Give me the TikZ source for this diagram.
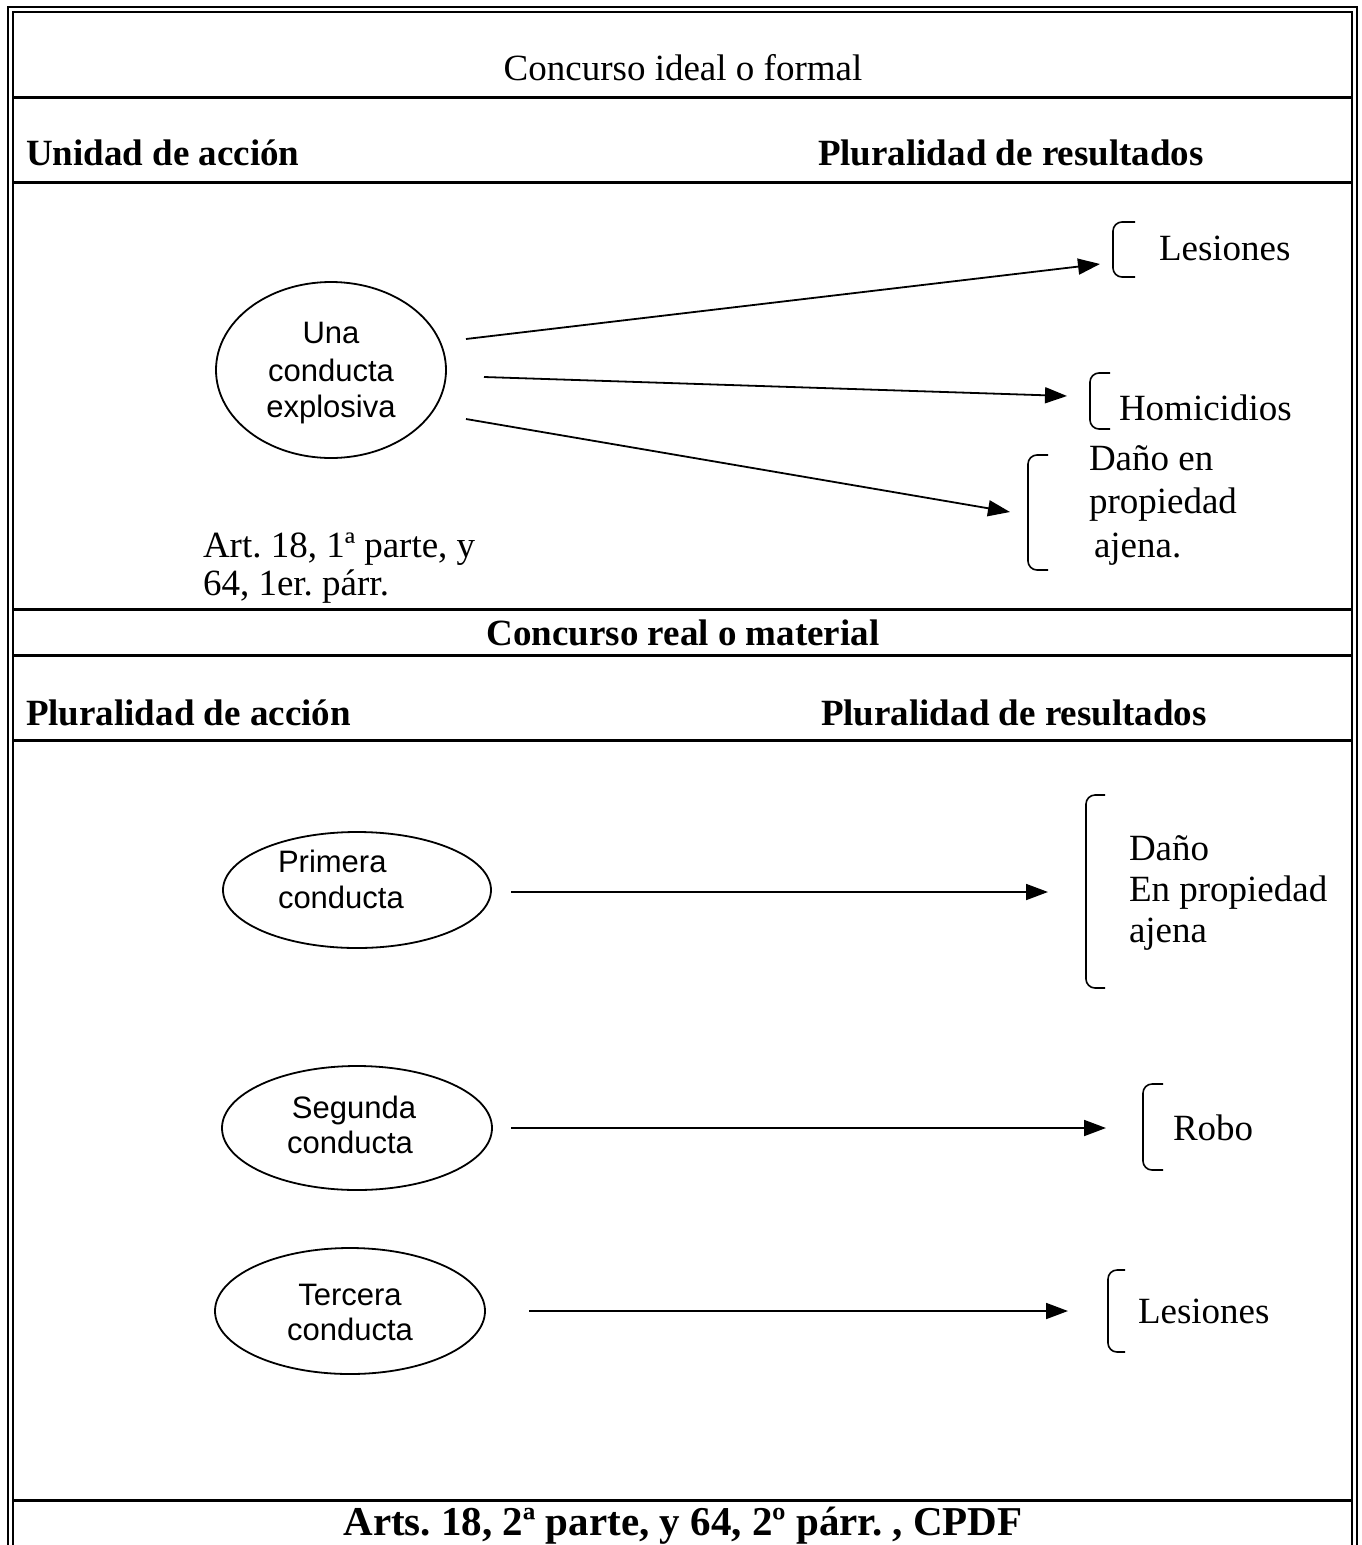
\documentclass[tikz,border=0pt]{standalone}
\usepackage{fontspec}
\setmainfont{Liberation Serif}
\newfontfamily\arialf{Liberation Sans}
\usetikzlibrary{arrows.meta,shapes.geometric}
\frenchspacing
\begin{document}
\begin{tikzpicture}[x=1pt,y=-1pt,line width=2pt,
  stxt/.style={font=\fontsize{37}{43}\selectfont,inner sep=0pt,anchor=base west},
  ctxt/.style={font=\fontsize{37}{43}\selectfont,inner sep=0pt,anchor=base},
  btxt/.style={font=\fontsize{37}{43}\selectfont\bfseries,inner sep=0pt,anchor=base west},
  atxt/.style={font=\fontsize{31}{36}\selectfont\arialf,inner sep=0pt,anchor=base},
  awtxt/.style={font=\fontsize{31}{36}\selectfont\arialf,inner sep=0pt,anchor=base west},
  ell/.style={draw,ellipse,inner sep=0pt,line width=1.8pt},
  arr/.style={-{Triangle[length=22pt,width=16pt]},line width=1.8pt},
  brk/.style={line width=1.6pt,rounded corners=9pt},
  rule/.style={line width=3pt}]
\useasboundingbox (0,0) rectangle (1361,1545);
\clip (0,0) rectangle (1361,1545);
% outer double border
\draw[line width=2.2pt] (8,7) rectangle (1357,1600);
\draw[line width=2.2pt] (13,12) rectangle (1352,1600);
% horizontal rules
\foreach \yy in {97,182,609,655,740,1500}
  \draw[rule] (13,\yy) -- (1352,\yy);
% headers
\node[ctxt] (t1) at (683,80) {Concurso ideal o formal};
\node[btxt] (h1) at (25,165) {Unidad de acción};
\node[btxt] (h2) at (817,165) {Pluralidad de resultados};
\node[ctxt,font=\fontsize{37}{43}\selectfont\bfseries] (t2) at (683,645) {Concurso real o material};
\node[btxt] (h3) at (25,725) {Pluralidad de acción};
\node[btxt] (h4) at (820,725) {Pluralidad de resultados};
\node[ctxt,font=\fontsize{41}{47}\selectfont\bfseries] (t3) at (683,1535) {Arts. 18, 2ª parte, y 64, 2º párr. , CPDF};
% top section
\node[ell,minimum width=230pt,minimum height=176pt] (e1) at (331,370) {};
\node[atxt] (e1a) at (331,343) {Una};
\node[atxt] (e1b) at (331,381) {conducta};
\node[atxt] (e1c) at (331,417) {explosiva};
\node[stxt] (r1) at (1158,260) {Lesiones};
\node[stxt] (r2) at (1118,420) {Homicidios};
\node[stxt] (r3a) at (1088,470) {Daño en};
\node[stxt] (r3b) at (1088,513) {propiedad};
\node[stxt] (r3c) at (1093,557) {ajena.};
\node[stxt] (art1) at (202,557) {Art. 18, 1ª parte, y};
\node[stxt] (art2) at (202,595) {64, 1er. párr.};
\draw[brk] (1135,222) -- (1113,222) -- (1113,277) -- (1135,277);
\draw[brk] (1110,373) -- (1090,373) -- (1090,429) -- (1110,429);
\draw[brk] (1048,455) -- (1028,455) -- (1028,570) -- (1048,570);
\coordinate (a1s) at (466,339);
\coordinate (a1e) at (1100,264);
\coordinate (a2s) at (484,377);
\coordinate (a2e) at (1067,396);
\coordinate (a3s) at (466,419);
\coordinate (a3e) at (1010,512);
\draw[arr] (a1s) -- (a1e);
\draw[arr] (a2s) -- (a2e);
\draw[arr] (a3s) -- (a3e);
% bottom section
\node[ell,minimum width=268pt,minimum height=116pt] (e2) at (357,890) {};
\node[awtxt] (e2a) at (277,872) {Primera};
\node[awtxt] (e2b) at (277,908) {conducta};
\node[ell,minimum width=270pt,minimum height=124pt] (e3) at (357,1128) {};
\node[atxt] (e3a) at (354,1118) {Segunda};
\node[atxt] (e3b) at (350,1153) {conducta};
\node[ell,minimum width=270pt,minimum height=126pt] (e4) at (350,1311) {};
\node[atxt] (e4a) at (350,1305) {Tercera};
\node[atxt] (e4b) at (350,1340) {conducta};
\node[stxt] (s1a) at (1128,860) {Daño};
\node[stxt] (s1b) at (1128,901) {En propiedad};
\node[stxt] (s1c) at (1128,942) {ajena};
\node[stxt] (s2) at (1172,1140) {Robo};
\node[stxt] (s3) at (1137,1323) {Lesiones};
\draw[brk] (1105,795) -- (1086,795) -- (1086,988) -- (1105,988);
\draw[brk] (1163,1084) -- (1143,1084) -- (1143,1170) -- (1163,1170);
\draw[brk] (1125,1270) -- (1108,1270) -- (1108,1352) -- (1125,1352);
\coordinate (b1s) at (511,892);
\coordinate (b1e) at (1048,892);
\coordinate (b2s) at (511,1128);
\coordinate (b2e) at (1106,1128);
\coordinate (b3s) at (529,1311);
\coordinate (b3e) at (1068,1311);
\draw[arr] (b1s) -- (b1e);
\draw[arr] (b2s) -- (b2e);
\draw[arr] (b3s) -- (b3e);
\end{tikzpicture}
\end{document}
